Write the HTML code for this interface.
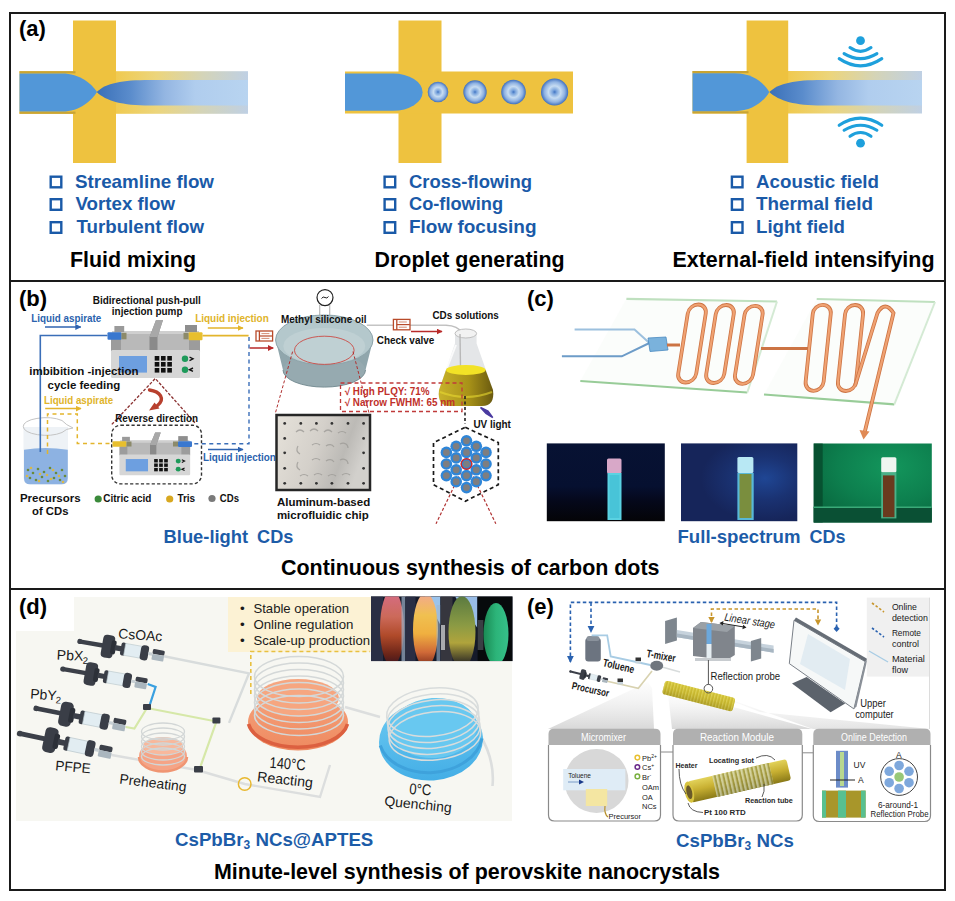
<!DOCTYPE html>
<html><head><meta charset="utf-8"><style>
html,body{margin:0;padding:0;background:#fff;}
body{width:955px;height:901px;overflow:hidden;position:relative;font-family:"Liberation Sans",sans-serif;}
svg{position:absolute;left:0;top:0;display:block;}
text{font-family:"Liberation Sans",sans-serif;}
.b{font-weight:bold;}
.lbl{font-weight:bold;font-size:22px;fill:#000;}
.li{font-weight:bold;font-size:18.5px;fill:#1a5aa8;}
.ttl{font-weight:bold;font-size:21.4px;fill:#000;}
.bt{font-weight:bold;font-size:18.7px;fill:#1c5ca8;}
.s10{font-weight:bold;font-size:10px;fill:#111;}
.s11{font-weight:bold;font-size:11.5px;fill:#111;}
</style></head><body>
<svg width="955" height="901" viewBox="0 0 955 901">
<defs>
  <linearGradient id="fadeY1" gradientUnits="userSpaceOnUse" x1="19.5" x2="248" y1="0" y2="0">
    <stop offset="0" stop-color="#eec23f"/>
    <stop offset="0.42" stop-color="#f0ca50"/>
    <stop offset="0.6" stop-color="#ecd57c"/>
    <stop offset="0.8" stop-color="#d4d4b8"/>
    <stop offset="1" stop-color="#bfd0e4"/>
  </linearGradient>
  <linearGradient id="fadeY2" gradientUnits="userSpaceOnUse" x1="692.5" x2="922" y1="0" y2="0">
    <stop offset="0" stop-color="#eec23f"/>
    <stop offset="0.42" stop-color="#f0ca50"/>
    <stop offset="0.6" stop-color="#ecd57c"/>
    <stop offset="0.8" stop-color="#d4d4b8"/>
    <stop offset="1" stop-color="#bfd0e4"/>
  </linearGradient>
  <linearGradient id="jet1" gradientUnits="userSpaceOnUse" x1="97" x2="248" y1="0" y2="0">
    <stop offset="0" stop-color="#3a70b8"/>
    <stop offset="0.22" stop-color="#5a8ccc"/>
    <stop offset="0.45" stop-color="#94b6e2"/>
    <stop offset="0.65" stop-color="#b0cdee"/>
    <stop offset="1" stop-color="#b8d4f0"/>
  </linearGradient>
  <linearGradient id="jet2" gradientUnits="userSpaceOnUse" x1="769" x2="922" y1="0" y2="0">
    <stop offset="0" stop-color="#3a70b8"/>
    <stop offset="0.22" stop-color="#5a8ccc"/>
    <stop offset="0.45" stop-color="#94b6e2"/>
    <stop offset="0.65" stop-color="#b0cdee"/>
    <stop offset="1" stop-color="#b8d4f0"/>
  </linearGradient>
  <radialGradient id="drop">
    <stop offset="0" stop-color="#3f73c2"/>
    <stop offset="0.15" stop-color="#7aa4dc"/>
    <stop offset="0.45" stop-color="#c6dcf2"/>
    <stop offset="0.75" stop-color="#8fb2e2"/>
    <stop offset="1" stop-color="#3e6fbd"/>
  </radialGradient>
  <g id="wave">
    <circle cx="0" cy="0" r="4.4" fill="#1ea0dc"/>
    <path d="M-10.5,6.9 Q0,14.5 10.5,6.9" fill="none" stroke="#1ea0dc" stroke-width="3.1" stroke-linecap="round"/>
    <path d="M-16.4,12.9 Q0,22.9 16.4,12.9" fill="none" stroke="#1ea0dc" stroke-width="3.1" stroke-linecap="round"/>
    <path d="M-21.3,17.9 Q0,32.3 21.3,17.9" fill="none" stroke="#1ea0dc" stroke-width="3.1" stroke-linecap="round"/>
  </g>
  <g id="box13">
    <rect x="1.2" y="1.2" width="10.6" height="10.6" fill="none" stroke="#1a5aa8" stroke-width="2.4"/>
  </g>
</defs>

<!-- ============ PANEL A ============ -->
<!-- left T -->
<rect x="19.5" y="71.2" width="228.5" height="42.6" fill="url(#fadeY1)"/>
<rect x="73" y="20.5" width="43" height="142.5" fill="#eec23f"/>
<rect x="19.5" y="71.2" width="56" height="2.2" fill="#c9a433"/>
<rect x="19.5" y="111.6" width="56" height="2.2" fill="#c9a433"/>
<path d="M19.5,73.4 H62 C80,73.4 92,84 97,92 C92,100 80,111.6 62,111.6 H19.5 Z" fill="#5297d8"/>
<path d="M96.7,92 C106,83 122,80 150,80 H248 V105.5 H150 C122,105.5 106,101 96.7,92 Z" fill="url(#jet1)"/>
<!-- middle T -->
<rect x="398.5" y="20.5" width="43" height="142.5" fill="#eec23f"/>
<rect x="345" y="71.5" width="228" height="42" fill="#eec23f"/>
<path d="M345,73.5 H393 A29.6,18.65 0 0 1 393,110.8 H345 Z" fill="#5297d8"/>
<circle cx="438" cy="92" r="10.3" fill="url(#drop)"/>
<circle cx="475" cy="92" r="11.7" fill="url(#drop)"/>
<circle cx="513.5" cy="92" r="12.3" fill="url(#drop)"/>
<circle cx="554.6" cy="92" r="13.6" fill="url(#drop)"/>

<!-- right T -->
<rect x="692.5" y="71" width="229.5" height="42.5" fill="url(#fadeY2)"/>
<rect x="746.6" y="20.5" width="41.6" height="142.5" fill="#eec23f"/>
<rect x="692.5" y="71" width="56" height="2.2" fill="#c9a433"/>
<rect x="692.5" y="111.3" width="56" height="2.2" fill="#c9a433"/>
<path d="M692.5,73.3 H735 C753,73.3 765,84 769.3,92 C765,100 753,111.2 735,111.2 H692.5 Z" fill="#5297d8"/>
<path d="M769.3,92 C779,83 795,80 822,80 H922 V105.5 H822 C795,105.5 779,101 769.3,92 Z" fill="url(#jet2)"/>
<use href="#wave" x="860.5" y="40.7"/>
<use href="#wave" transform="translate(860.5,143.2) scale(1,-1)"/>

<text x="19" y="35.5" class="lbl">(a)</text>

<use href="#box13" x="49.5" y="175.5"/>
<use href="#box13" x="49.5" y="198"/>
<use href="#box13" x="49.5" y="221"/>
<text x="75" y="187.5" class="li" textLength="139" lengthAdjust="spacingAndGlyphs">Streamline flow</text>
<text x="75.5" y="210" class="li" textLength="99.5" lengthAdjust="spacingAndGlyphs">Vortex flow</text>
<text x="76.5" y="233" class="li" textLength="127.5" lengthAdjust="spacingAndGlyphs">Turbulent flow</text>
<text x="70" y="267" class="ttl" textLength="126" lengthAdjust="spacingAndGlyphs">Fluid mixing</text>

<use href="#box13" x="383.4" y="175.5"/>
<use href="#box13" x="383.4" y="198"/>
<use href="#box13" x="383.4" y="221"/>
<text x="409" y="187.5" class="li" textLength="123" lengthAdjust="spacingAndGlyphs">Cross-flowing</text>
<text x="409" y="210" class="li" textLength="94" lengthAdjust="spacingAndGlyphs">Co-flowing</text>
<text x="409" y="233" class="li" textLength="127.5" lengthAdjust="spacingAndGlyphs">Flow focusing</text>
<text x="374.6" y="267" class="ttl" textLength="190" lengthAdjust="spacingAndGlyphs">Droplet generating</text>

<use href="#box13" x="730.7" y="175.5"/>
<use href="#box13" x="730.7" y="198"/>
<use href="#box13" x="730.7" y="221"/>
<text x="756" y="187.5" class="li" textLength="123" lengthAdjust="spacingAndGlyphs">Acoustic field</text>
<text x="756" y="210" class="li" textLength="117" lengthAdjust="spacingAndGlyphs">Thermal field</text>
<text x="756" y="233" class="li" textLength="89" lengthAdjust="spacingAndGlyphs">Light field</text>
<text x="672.5" y="267" class="ttl" textLength="262" lengthAdjust="spacingAndGlyphs">External-field intensifying</text>

<!-- ============ PANEL B ============ -->
<defs>
  <marker id="arB" viewBox="0 0 10 10" refX="9" refY="5" markerWidth="4" markerHeight="4" orient="auto"><path d="M0,0 L10,5 L0,10 z" fill="#2f63b0"/></marker>
  <marker id="arY" viewBox="0 0 10 10" refX="9" refY="5" markerWidth="4" markerHeight="4" orient="auto"><path d="M0,0 L10,5 L0,10 z" fill="#e3b52c"/></marker>
  <marker id="arR" viewBox="0 0 10 10" refX="9" refY="5" markerWidth="4" markerHeight="4" orient="auto"><path d="M0,0 L10,5 L0,10 z" fill="#b82a2a"/></marker>
  <linearGradient id="chipG" x1="0" y1="0" x2="1" y2="0.3">
    <stop offset="0" stop-color="#e6e2da"/><stop offset="0.5" stop-color="#d4d0ca"/><stop offset="0.8" stop-color="#bcbab6"/><stop offset="1" stop-color="#d2d0cc"/>
  </linearGradient>
  <linearGradient id="flaskL" x1="0" x2="1" y1="0" y2="0">
    <stop offset="0" stop-color="#c8b22a"/><stop offset="0.55" stop-color="#a89218"/><stop offset="1" stop-color="#6a5a10"/>
  </linearGradient>
  <g id="pump">
    <rect x="1" y="11" width="87" height="20" fill="#b9b9b9"/>
    <rect x="1" y="11" width="87" height="3" fill="#cfcfcf"/>
    <rect x="3.4" y="6" width="9.8" height="6" fill="#9a9a9a"/>
    <rect x="74" y="5" width="12" height="7" fill="#8e8e8e"/>
    <rect x="0" y="19" width="10" height="12" fill="#9c9c9c"/>
    <rect x="78" y="19" width="11" height="12" fill="#9c9c9c"/>
    <path d="M38.5,31 V17 L45,0 H52 L46.5,17 V31 Z" fill="#8a8a8a"/>
    <path d="M45,0 H52 L46.5,17 H38.5 Z" fill="#a8a8a8"/>
    <rect x="0" y="30" width="89" height="28" rx="1.5" fill="#d6d6d6"/>
    <rect x="8" y="36" width="28" height="16.6" fill="#6d9fe0"/>
    <g fill="#111">
      <rect x="43.7" y="36" width="4.6" height="4.6"/><rect x="50" y="36" width="4.6" height="4.6"/><rect x="56.3" y="36" width="4.6" height="4.6"/>
      <rect x="43.7" y="42" width="4.6" height="4.6"/><rect x="50" y="42" width="4.6" height="4.6"/><rect x="56.3" y="42" width="4.6" height="4.6"/>
      <rect x="43.7" y="48" width="4.6" height="4.6"/><rect x="50" y="48" width="4.6" height="4.6"/><rect x="56.3" y="48" width="4.6" height="4.6"/>
    </g>
    <circle cx="74" cy="38.8" r="3.2" fill="#1e9a5a"/>
    <circle cx="74" cy="49.7" r="3.2" fill="#1e9a5a"/>
    <path d="M78.5,37 L82,38.8 L78.5,40.6" fill="none" stroke="#111" stroke-width="1.4"/>
    <path d="M82,48 L78.5,49.7 L82,51.4" fill="none" stroke="#111" stroke-width="1.4"/>
  </g>
</defs>
<!-- pump 1 -->
<use href="#pump" transform="translate(111,320)"/>
<rect x="107.5" y="332.3" width="14" height="7.5" rx="1" fill="#3a78cf"/>
<rect x="121.5" y="332.8" width="5" height="6.5" fill="#8c8a6a"/>
<rect x="188.5" y="332.3" width="14" height="8" rx="1" fill="#e8bf2e"/>
<rect x="183.5" y="332.8" width="5" height="6.5" fill="#8c8a6a"/>
<!-- pump 2 -->
<rect x="111.7" y="425.2" width="89.8" height="58.7" rx="9" fill="none" stroke="#333" stroke-width="1.4" stroke-dasharray="3.2,2.2"/>
<use href="#pump" transform="translate(119.4,432.4) scale(0.795,0.74)"/>
<rect x="112.5" y="441.3" width="14" height="5.5" rx="1" fill="#e8bf2e"/>
<rect x="126.5" y="441.5" width="5" height="5" fill="#8c8a6a"/>
<rect x="178" y="441.3" width="14" height="5.8" rx="1" fill="#3a78cf"/>
<rect x="173" y="441.5" width="5" height="5" fill="#8c8a6a"/>
<!-- beaker -->
<path d="M23.5,427 V478 Q23.5,484.5 30,484.5 H61.5 Q68,484.5 68,478 V427 Z" fill="#eef2f6"/>
<path d="M24,449.8 Q45,446 67.8,449.8 V478 Q67.8,484.3 61.5,484.3 H30 Q24,484.3 24,478 Z" fill="#8db2e2"/>
<g fill="#6a8a3a">
<circle cx="28" cy="470" r="1.3"/><circle cx="33" cy="473" r="1.3"/><circle cx="38" cy="469" r="1.3"/><circle cx="44" cy="472" r="1.3"/><circle cx="50" cy="468" r="1.3"/><circle cx="56" cy="473" r="1.3"/><circle cx="62" cy="470" r="1.3"/><circle cx="30" cy="478" r="1.3"/><circle cx="36" cy="480" r="1.3"/><circle cx="42" cy="477" r="1.3"/><circle cx="48" cy="481" r="1.3"/><circle cx="54" cy="478" r="1.3"/><circle cx="60" cy="480" r="1.3"/><circle cx="65" cy="476" r="1.3"/>
</g>
<g fill="#d8b84a">
<circle cx="31" cy="468" r="1.3"/><circle cx="40" cy="474" r="1.3"/><circle cx="47" cy="475" r="1.3"/><circle cx="53" cy="470" r="1.3"/><circle cx="59" cy="476" r="1.3"/><circle cx="27" cy="476" r="1.3"/><circle cx="39" cy="481" r="1.3"/><circle cx="51" cy="479" r="1.3"/><circle cx="63" cy="482" r="1.3"/>
</g>
<path d="M23.3,426.7 A22.3,8.5 0 0 1 62,420.5 Q66,425 73,428 Q66,428.5 62,432.5 A22.3,8.5 0 0 1 23.3,426.7 Z" fill="none" stroke="#c4c4c4" stroke-width="1"/>
<!-- lines -->
<polyline points="107.5,335.5 40.3,335.5 40.3,452" fill="none" stroke="#3a6eb8" stroke-width="1.6"/>
<line x1="45" y1="327" x2="80.7" y2="327" stroke="#2f63b0" stroke-width="1.5" marker-end="url(#arB)"/>
<line x1="202.5" y1="335.6" x2="248.6" y2="335.6" stroke="#e3b52c" stroke-width="1.6"/>
<line x1="207.8" y1="328" x2="243" y2="328" stroke="#e3b52c" stroke-width="1.5" marker-end="url(#arY)"/>
<polyline points="249,337 249,443.8 193.8,443.8" fill="none" stroke="#3a6eb8" stroke-width="1.4" stroke-dasharray="4,3.5"/>
<line x1="208" y1="449.5" x2="243" y2="449.5" stroke="#2f63b0" stroke-width="1.5" marker-end="url(#arB)"/>
<polyline points="47.5,454 47.5,414 77.3,414 77.3,443.5 112.5,443.5" fill="none" stroke="#e3b52c" stroke-width="1.5" stroke-dasharray="4,3.5"/>
<line x1="45.2" y1="408.6" x2="81" y2="408.6" stroke="#e3b52c" stroke-width="1.5" marker-end="url(#arY)"/>
<line x1="249.7" y1="348" x2="273.2" y2="348" stroke="#b82a2a" stroke-width="1.5" marker-end="url(#arR)"/>
<!-- check valve 1 -->
<g transform="translate(255.4,330.4)">
  <rect x="0.6" y="0.6" width="16.6" height="10" fill="#fff" stroke="#b84a2a" stroke-width="1.3"/>
  <line x1="4" y1="0.6" x2="4" y2="10.6" stroke="#b84a2a" stroke-width="1.3"/>
  <line x1="4" y1="5.6" x2="17" y2="5.6" stroke="#b84a2a" stroke-width="1.2"/>
  <line x1="6" y1="3.2" x2="14" y2="3.2" stroke="#c87050" stroke-width="0.8"/>
  <line x1="6" y1="8" x2="14" y2="8" stroke="#c87050" stroke-width="0.8"/>
</g>
<!-- red dashed triangle + curved arrow -->
<polyline points="111.8,424.4 155.3,378.5 195.5,423.5" fill="none" stroke="#8a3030" stroke-width="1.3" stroke-dasharray="3,1.6"/>
<path d="M149.5,390 C160,391.5 166,399 157,406" fill="none" stroke="#b8402e" stroke-width="3.4" stroke-linecap="round"/>
<path d="M149,410.5 L154.5,402.5 L159.5,408.5 Z" fill="#b8402e"/>
<!-- dish -->
<line x1="319.7" y1="305" x2="319.7" y2="331" stroke="#b8b8b8" stroke-width="1.2"/>
<line x1="329.7" y1="305" x2="329.7" y2="331" stroke="#b8b8b8" stroke-width="1.2"/>
<circle cx="325" cy="297.6" r="8" fill="#fff" stroke="#222" stroke-width="1.2"/>
<path d="M321.5,298.5 Q323,296 325,297.5 Q327,299 328.5,296.5" fill="none" stroke="#222" stroke-width="1"/>
<path d="M275.7,340 L283,370 A41,17 0 0 0 365.5,370 L373,340 Z" fill="#90a6ac"/>
<ellipse cx="324.3" cy="370" rx="41" ry="17" fill="#96aab0"/>
<path d="M283,370 A41,17 0 0 0 365.5,370" fill="none" stroke="#7a9096" stroke-width="1"/>
<ellipse cx="324.3" cy="340" rx="48.7" ry="25" fill="#b4c8cc" stroke="#8ea4aa" stroke-width="1"/>
<ellipse cx="324.3" cy="346" rx="41" ry="18" fill="#bfd0d3"/>
<ellipse cx="324.3" cy="350.3" rx="29.8" ry="14.1" fill="none" stroke="#cc4a44" stroke-width="0.9"/>
<line x1="366.8" y1="325.2" x2="446" y2="325.2" stroke="#c4c4c4" stroke-width="1.4"/>
<path d="M446,325.2 Q458,325.5 462,333 L462.5,372" fill="none" stroke="#bfbfbf" stroke-width="1.4"/>
<!-- dashed red lines to chip -->
<line x1="292.6" y1="351.6" x2="275.4" y2="413" stroke="#b03030" stroke-width="1" stroke-dasharray="3,2"/>
<line x1="353" y1="351.6" x2="369" y2="413" stroke="#b03030" stroke-width="1" stroke-dasharray="3,2"/>
<!-- check valve 2 and arrow -->
<g transform="translate(392.8,318.8)">
  <rect x="0.6" y="0.6" width="16.6" height="10.4" fill="#fff" stroke="#b84a2a" stroke-width="1.3"/>
  <line x1="4" y1="0.6" x2="4" y2="11" stroke="#b84a2a" stroke-width="1.3"/>
  <line x1="4" y1="5.8" x2="17" y2="5.8" stroke="#b84a2a" stroke-width="1.2"/>
  <line x1="6" y1="3.2" x2="14" y2="3.2" stroke="#c87050" stroke-width="0.8"/>
  <line x1="6" y1="8.4" x2="14" y2="8.4" stroke="#c87050" stroke-width="0.8"/>
</g>
<line x1="411" y1="331.5" x2="442" y2="331.5" stroke="#b82a2a" stroke-width="1.5" marker-end="url(#arR)"/>
<!-- flask -->
<path d="M455,334 L455,343.5 L439,390 Q437,406 450,406 H482 Q495,406 493,390 L476.6,343.5 L476.6,334 Z" fill="#e4e6e8"/>
<ellipse cx="465.8" cy="333.5" rx="10.8" ry="4.5" fill="#f2f2f2" stroke="#b8b8b8" stroke-width="0.9"/>
<path d="M460,334 L460.5,368" stroke="#b8b8b8" stroke-width="1.4" fill="none"/>
<path d="M447,368 L456,345" stroke="#ffffff" stroke-width="2" fill="none" opacity="0.8"/>
<path d="M446,370 Q465.8,364 485.6,370 L493,390 Q495,406 482,406 H450 Q437,406 439,390 Z" fill="url(#flaskL)"/>
<ellipse cx="465.8" cy="370" rx="19.8" ry="5" fill="#f2e226"/>
<path d="M440,392 Q466,402 492,392" fill="none" stroke="#e8d830" stroke-width="2" opacity="0.6"/>
<line x1="465" y1="396" x2="465" y2="424" stroke="#222" stroke-width="1.6" stroke-dasharray="3,2.5"/>
<path d="M480.5,407.5 L492.8,417.6 L486,413.5 Z M480.5,407.5 L488,411 L492.8,417.6" fill="#4a3aa0" stroke="#4a3aa0" stroke-width="1.5"/>
<!-- red dashed PLQY box -->
<rect x="340.5" y="383" width="121.5" height="28.5" fill="none" stroke="#c03a3a" stroke-width="1.3" stroke-dasharray="4,3"/>
<!-- chip -->
<rect x="276.5" y="415" width="93.5" height="75" fill="url(#chipG)" stroke="#262626" stroke-width="2.5"/>
<g fill="#333">
<circle cx="284.7" cy="423.4" r="1.4"/><circle cx="300.8" cy="423.4" r="1.4"/><circle cx="316.4" cy="423.4" r="1.4"/><circle cx="331.9" cy="423.4" r="1.4"/><circle cx="348" cy="423.4" r="1.4"/><circle cx="363.6" cy="423.4" r="1.4"/>
<circle cx="284.7" cy="483.3" r="1.4"/><circle cx="300.8" cy="483.3" r="1.4"/><circle cx="316.4" cy="483.3" r="1.4"/><circle cx="331.9" cy="483.3" r="1.4"/><circle cx="348" cy="483.3" r="1.4"/><circle cx="363.6" cy="483.3" r="1.4"/>
<circle cx="284.7" cy="438.4" r="1.4"/><circle cx="284.7" cy="452.8" r="1.4"/><circle cx="284.7" cy="468.3" r="1.4"/>
<circle cx="363.6" cy="438.4" r="1.4"/><circle cx="363.6" cy="452.8" r="1.4"/><circle cx="363.6" cy="468.3" r="1.4"/>
</g>
<g fill="none" stroke="#9e9c98" stroke-width="1.2" opacity="0.8">
<path d="M296,432 q4,-4 8,0 M310,431 q4,-4 8,0 M324,432 q4,-4 8,0 M338,433 q4,-3 8,0"/>
<path d="M298,446 q-3,5 2,8 M312,445 q4,-3 8,0 M326,446 c3,-2 6,-2 8,1 M340,444 c4,-2 8,0 8,4"/>
<path d="M298,462 q-3,5 2,8 M312,460 q4,-3 8,0 M326,461 c3,-2 6,-2 8,1 M340,460 c4,-2 8,0 8,4"/>
<path d="M300,476 q4,-3 8,0 M314,475 q4,-3 8,0 M328,476 q4,-3 8,0 M342,475 q4,-3 8,0"/>
</g>
<!-- hexagon -->
<polygon points="465.3,427.3 498.3,442.6 498.3,484.7 465.3,501.2 433.5,484.7 433.5,442.6" fill="none" stroke="#1a1a1a" stroke-width="1.7" stroke-dasharray="4,3"/>
<line x1="461" y1="472" x2="436" y2="523.8" stroke="#b03030" stroke-width="1.2" stroke-dasharray="3,2"/>
<line x1="471" y1="472" x2="495.8" y2="523.8" stroke="#b03030" stroke-width="1.2" stroke-dasharray="3,2"/>
<g id="hexc">
<g fill="#2f86d8">
<circle cx="466.5" cy="464" r="5.8"/>
<circle cx="466.5" cy="452.4" r="5.8"/><circle cx="476.3" cy="457.9" r="5.8"/><circle cx="476.3" cy="469.8" r="5.8"/><circle cx="466.5" cy="475.6" r="5.8"/><circle cx="456.2" cy="469.8" r="5.8"/><circle cx="456.2" cy="457.9" r="5.8"/>
<circle cx="466.5" cy="440.8" r="5.8"/><circle cx="476.3" cy="446.3" r="5.8"/><circle cx="486" cy="452.4" r="5.8"/><circle cx="486" cy="464" r="5.8"/><circle cx="486" cy="475.6" r="5.8"/><circle cx="476.3" cy="481.7" r="5.8"/><circle cx="466.5" cy="487.6" r="5.8"/><circle cx="456.2" cy="481.7" r="5.8"/><circle cx="446.4" cy="475.6" r="5.8"/><circle cx="446.4" cy="464" r="5.8"/><circle cx="446.4" cy="452.4" r="5.8"/><circle cx="456.2" cy="446.3" r="5.8"/>
</g>
<g fill="#7e7e80">
<circle cx="466.5" cy="464" r="3.4"/>
<circle cx="466.5" cy="452.4" r="3.4"/><circle cx="476.3" cy="457.9" r="3.4"/><circle cx="476.3" cy="469.8" r="3.4"/><circle cx="466.5" cy="475.6" r="3.4"/><circle cx="456.2" cy="469.8" r="3.4"/><circle cx="456.2" cy="457.9" r="3.4"/>
<circle cx="466.5" cy="440.8" r="3.4"/><circle cx="476.3" cy="446.3" r="3.4"/><circle cx="486" cy="452.4" r="3.4"/><circle cx="486" cy="464" r="3.4"/><circle cx="486" cy="475.6" r="3.4"/><circle cx="476.3" cy="481.7" r="3.4"/><circle cx="466.5" cy="487.6" r="3.4"/><circle cx="456.2" cy="481.7" r="3.4"/><circle cx="446.4" cy="475.6" r="3.4"/><circle cx="446.4" cy="464" r="3.4"/><circle cx="446.4" cy="452.4" r="3.4"/><circle cx="456.2" cy="446.3" r="3.4"/>
</g>
<circle cx="466.5" cy="464" r="5.3" fill="none" stroke="#d02828" stroke-width="1.4"/>
</g>
<!-- text b -->
<text x="92.8" y="303.5" class="s10" textLength="108" lengthAdjust="spacingAndGlyphs">Bidirectional push-pull</text>
<text x="111.8" y="314.8" class="s10" textLength="70.7" lengthAdjust="spacingAndGlyphs">injection pump</text>
<text x="31.2" y="321.8" class="s10" style="fill:#2a62ad" textLength="70" lengthAdjust="spacingAndGlyphs">Liquid aspirate</text>
<text x="195.2" y="321.8" class="s10" style="fill:#e0b42a" textLength="73.6" lengthAdjust="spacingAndGlyphs">Liquid injection</text>
<text x="29.2" y="375.2" class="s11" textLength="109.4" lengthAdjust="spacingAndGlyphs">imbibition -injection</text>
<text x="47.6" y="389.4" class="s11" textLength="72.7" lengthAdjust="spacingAndGlyphs">cycle feeding</text>
<text x="44" y="403.8" class="s10" style="fill:#e0b42a" textLength="69.2" lengthAdjust="spacingAndGlyphs">Liquid aspirate</text>
<text x="115.2" y="422.2" class="s10" textLength="82.8" lengthAdjust="spacingAndGlyphs">Reverse direction</text>
<text x="203" y="461" class="s10" style="fill:#2a62ad" textLength="72.8" lengthAdjust="spacingAndGlyphs">Liquid injection</text>
<text x="19.9" y="501.7" class="s11" textLength="60.8" lengthAdjust="spacingAndGlyphs">Precursors</text>
<text x="32" y="515.3" class="s11" textLength="36.5" lengthAdjust="spacingAndGlyphs">of CDs</text>
<circle cx="98.2" cy="499" r="3.6" fill="#3a8a3a"/>
<text x="103.3" y="502.3" class="s10" textLength="48.1" lengthAdjust="spacingAndGlyphs">Citric acid</text>
<circle cx="169.7" cy="499" r="3.6" fill="#d8a820"/>
<text x="177.4" y="502.3" class="s10" textLength="17.8" lengthAdjust="spacingAndGlyphs">Tris</text>
<circle cx="212" cy="498.5" r="3.6" fill="#7a7a7a"/>
<text x="219.8" y="502.3" class="s10" textLength="19.2" lengthAdjust="spacingAndGlyphs">CDs</text>
<text x="281" y="323.3" class="s10" textLength="85.5" lengthAdjust="spacingAndGlyphs">Methyl silicone oil</text>
<text x="376.7" y="344.3" class="s10" textLength="57.6" lengthAdjust="spacingAndGlyphs">Check valve</text>
<text x="432.4" y="319" class="s10" textLength="66.4" lengthAdjust="spacingAndGlyphs">CDs solutions</text>
<text x="473.4" y="428.4" class="s10" textLength="37.5" lengthAdjust="spacingAndGlyphs">UV light</text>
<text x="276.9" y="505.9" class="s11" textLength="93.3" lengthAdjust="spacingAndGlyphs">Aluminum-based</text>
<text x="276.9" y="518.7" class="s11" textLength="91.8" lengthAdjust="spacingAndGlyphs">microfluidic chip</text>
<text x="344.7" y="395.3" class="s10" style="fill:#c0302a" textLength="84.8" lengthAdjust="spacingAndGlyphs">√ High PLQY: 71%</text>
<text x="344.7" y="406.4" class="s10" style="fill:#c0302a" textLength="110.3" lengthAdjust="spacingAndGlyphs">√ Narrow FWHM: 65 nm</text>

<!-- ============ PANEL C ============ -->
<defs>
  <g id="loop">
    <rect x="-9" y="-39" width="18" height="78" rx="9" fill="none" stroke="#cc7444" stroke-width="3.8"/>
    <rect x="-9" y="-39" width="18" height="78" rx="9" fill="none" stroke="#f0a272" stroke-width="2.2"/>
  </g>
  <g id="loopT">
    <rect x="-9" y="-43" width="18" height="86" rx="9" fill="none" stroke="#cc7444" stroke-width="3.8"/>
    <rect x="-9" y="-43" width="18" height="86" rx="9" fill="none" stroke="#f0a272" stroke-width="2.2"/>
  </g>
  <linearGradient id="ph1" x1="0" y1="0" x2="0" y2="1"><stop offset="0" stop-color="#071233"/><stop offset="0.55" stop-color="#061030"/><stop offset="0.75" stop-color="#05081a"/><stop offset="1" stop-color="#040407"/></linearGradient>
  <radialGradient id="ph2" cx="0.72" cy="0.45" r="0.55"><stop offset="0" stop-color="#1f4694"/><stop offset="0.5" stop-color="#1a3272"/><stop offset="1" stop-color="#16255a"/></radialGradient>
  <radialGradient id="ph3" cx="0.65" cy="0.3" r="0.75"><stop offset="0" stop-color="#13965c"/><stop offset="0.6" stop-color="#0d7f4e"/><stop offset="1" stop-color="#096a40"/></radialGradient>
</defs>
<!-- plates -->
<polygon points="626.4,298.8 777,301.5 747.3,392.5 580.3,381" fill="#f8fbf8" fill-opacity="0.5"/>
<line x1="626.4" y1="298.8" x2="777" y2="301.5" stroke="#bfe0bf" stroke-width="2.2"/>
<line x1="580.3" y1="381" x2="747.3" y2="392.5" stroke="#98cc98" stroke-width="2.2"/>
<line x1="777" y1="301.5" x2="747.3" y2="392.5" stroke="#d4ead4" stroke-width="2"/>
<polygon points="816.7,299 935,302 894.3,404.4 764,394.5" fill="#f8fbf8" fill-opacity="0.5"/>
<line x1="816.7" y1="299" x2="935" y2="302" stroke="#bfe0bf" stroke-width="2.2"/>
<line x1="764" y1="394.5" x2="894.3" y2="404.4" stroke="#98cc98" stroke-width="2.2"/>
<line x1="935" y1="302" x2="894.3" y2="404.4" stroke="#d4ead4" stroke-width="2"/>
<!-- inlet -->
<polyline points="574.6,329.6 634.5,329.6 649.4,343" fill="none" stroke="#9cc0de" stroke-width="2"/>
<polyline points="561.9,356.3 621.8,356.3 649.4,343" fill="none" stroke="#6d9cc8" stroke-width="2"/>
<polygon points="648,338 666,337 668,350 650,351.5" fill="#7ab2dc" stroke="#4a8ac0" stroke-width="0.8"/>
<line x1="667" y1="345" x2="680" y2="345" stroke="#cc7444" stroke-width="3"/>
<!-- connection -->
<line x1="761" y1="348.5" x2="810" y2="348.5" stroke="#cc7444" stroke-width="3"/>
<!-- loops -->
<use href="#loop" transform="translate(692,343.5) skewX(-9)"/>
<use href="#loop" transform="translate(720,344) skewX(-9)"/>
<use href="#loop" transform="translate(748.8,344.8) skewX(-9)"/>
<use href="#loopT" transform="translate(818.2,347.8) skewX(-6)"/>
<use href="#loopT" transform="translate(850.5,348) skewX(-6)"/>
<path d="M855,386 L877.5,313 Q885,300 893.5,313 L864.5,433" fill="none" stroke="#cc7444" stroke-width="3.8"/>
<path d="M855,386 L877.5,313 Q885,300 893.5,313 L864.5,433" fill="none" stroke="#f0a272" stroke-width="2.2"/>
<path d="M859.5,430 L863.5,439.5 L869.5,431.5 Z" fill="#e08a55"/>
<!-- photos -->
<rect x="546.8" y="443.4" width="118" height="77.8" fill="url(#ph1)"/>
<rect x="607" y="458.4" width="14.5" height="15" rx="1.5" fill="#d8a8c8"/>
<rect x="607.5" y="473" width="14" height="47" fill="#5ad2e2"/>
<rect x="609.5" y="475" width="10" height="43" fill="#48c4d8"/>
<rect x="681" y="443.4" width="116.3" height="77.8" fill="url(#ph2)"/>
<rect x="737.4" y="457" width="16" height="16" rx="1.5" fill="#b8e8f4"/>
<rect x="737.4" y="473" width="16.3" height="47" fill="#58b8d8"/>
<rect x="739.5" y="474" width="12" height="44" fill="#7a8e3e"/>
<rect x="813.7" y="443.5" width="118.1" height="79" fill="url(#ph3)"/>
<rect x="813.7" y="443.5" width="9" height="79" fill="#064a2c" opacity="0.8"/>
<rect x="813.7" y="507" width="118.1" height="15.5" fill="#0a5034"/>
<line x1="813.7" y1="507.3" x2="931.8" y2="507.3" stroke="#3aaa78" stroke-width="1.5"/>
<rect x="881.2" y="457.2" width="15.2" height="15.2" rx="1.5" fill="#eef6f0"/>
<rect x="881.2" y="472.4" width="15.2" height="46" fill="#4ab088"/>
<rect x="883" y="475.4" width="11.5" height="41.8" fill="#6a3a1e"/>

<!-- ============ PANEL D ============ -->
<defs>
  <g id="syr">
    <rect x="0" y="-2.2" width="27" height="4.4" rx="2" fill="#3c4049"/>
    <circle cx="1.5" cy="0" r="2.6" fill="#3c4049"/>
    <rect x="24" y="-11.5" width="12" height="23" rx="4" fill="#3a3e47"/>
    <rect x="33" y="-7" width="5" height="14" rx="2" fill="#2c3038"/>
    <rect x="37" y="-2.6" width="7" height="5.2" fill="#3c4049"/>
    <rect x="43" y="-6.5" width="5" height="13" rx="2" fill="#3a3e47"/>
    <rect x="47" y="-6" width="17" height="12" fill="#e2edf2" stroke="#b9c6cc" stroke-width="0.6"/>
    <rect x="63" y="-7.5" width="8" height="15" rx="3" fill="#3a3e47"/>
    <rect x="71" y="-1.5" width="4" height="3" fill="#c8d0d4"/>
    <rect x="75" y="-5.5" width="12" height="5" rx="1.5" fill="#3c4049"/>
    <rect x="75" y="-0.5" width="12" height="6" rx="1" fill="#aab6be"/>
  </g>
  <linearGradient id="oY" x1="0" y1="0" x2="0" y2="1"><stop offset="0" stop-color="#f6a27c"/><stop offset="1" stop-color="#ee8a60"/></linearGradient>
  <linearGradient id="bY" x1="0" y1="0" x2="0" y2="1"><stop offset="0" stop-color="#6ccaf2"/><stop offset="1" stop-color="#44aee6"/></linearGradient>
</defs>
<!-- off-white bg -->
<path d="M74,597 H371 V661 H512 V821 H16 V631 H74 Z" fill="#f7f7f2"/>
<!-- yellow box -->
<rect x="228" y="597" width="144" height="55" fill="#fcf2d4"/>
<polyline points="250.8,693.9 250.8,651.5 370,651.5" fill="none" stroke="#e8c040" stroke-width="1.6" stroke-dasharray="4,3"/>
<!-- tubes -->
<polyline points="162.7,656 249,673.4 229,722.9" fill="none" stroke="#d8dcdc" stroke-width="2.4"/>
<polyline points="147.7,684 155.6,687 150,704.2 147,708" fill="none" stroke="#3aa0e0" stroke-width="2.2"/>
<polyline points="125.7,727 134.4,728.5 147,708" fill="none" stroke="#d6e8a8" stroke-width="2.2"/>
<polyline points="147,708 216.4,721.5 200.6,766.2" fill="none" stroke="#d6e8a8" stroke-width="2.2"/>
<polyline points="111.6,755 197,770 244.7,784 320,797 330,765" fill="none" stroke="#dcdede" stroke-width="2.4"/>
<polyline points="345,707 380,717" fill="none" stroke="#dcdede" stroke-width="2.4"/>
<path d="M480,735 Q495,760 492.5,786" fill="none" stroke="#dcdede" stroke-width="2.6"/>
<g fill="#3a3e47">
<rect x="143" y="704" width="8" height="6" rx="1"/><rect x="212.4" y="717.5" width="8" height="6" rx="1"/><rect x="194" y="766" width="9" height="6.5" rx="1"/>
</g>
<circle cx="244.7" cy="784" r="6.3" fill="none" stroke="#e8b830" stroke-width="1.5"/>
<!-- syringes -->
<use href="#syr" transform="translate(78.4,641.2) rotate(10)"/>
<use href="#syr" transform="translate(61.3,668.8) rotate(10)"/>
<use href="#syr" transform="translate(34.6,708.1) rotate(11) scale(1.065)"/>
<use href="#syr" transform="translate(18.1,733.2) rotate(12) scale(1.1)"/>
<!-- preheating dish -->
<ellipse cx="163" cy="756" rx="24" ry="15.5" fill="#f5a486"/>
<path d="M139,757 A24,14.5 0 0 0 187,757" fill="none" stroke="#f09572" stroke-width="2.5"/>
<ellipse cx="163" cy="746" rx="20" ry="9" fill="#f8b89c"/>
<g fill="none" stroke="#d2d6d6" stroke-width="1.3">
<ellipse cx="163" cy="731.5" rx="21.5" ry="8.5"/><ellipse cx="163" cy="736.5" rx="21.5" ry="8.5"/><ellipse cx="163" cy="741.5" rx="21.5" ry="8.5"/><ellipse cx="163" cy="746.5" rx="21.5" ry="8.5"/><ellipse cx="163" cy="751.5" rx="21.5" ry="8.5"/><ellipse cx="163" cy="756.5" rx="21.5" ry="8.5"/>
</g>
<!-- reacting dish -->
<ellipse cx="298" cy="722" rx="50" ry="28.5" fill="url(#oY)"/>
<path d="M248.5,724 A50,27 0 0 0 347.5,724" fill="none" stroke="#dc6040" stroke-width="3.5"/>
<ellipse cx="298" cy="698" rx="41" ry="19" fill="#f6a680"/>
<g fill="none" stroke="#d4d8d8" stroke-width="1.6">
<ellipse cx="299" cy="676.5" rx="44.5" ry="20"/><ellipse cx="299" cy="683" rx="44.5" ry="20"/><ellipse cx="299" cy="689.5" rx="44.5" ry="20"/><ellipse cx="299" cy="696" rx="44.5" ry="20"/><ellipse cx="299" cy="702.5" rx="44.5" ry="20"/><ellipse cx="299" cy="709" rx="44.5" ry="20"/><ellipse cx="299" cy="715.5" rx="44.5" ry="20"/>
</g>
<!-- quench dish -->
<ellipse cx="431" cy="740.5" rx="52" ry="40" fill="url(#bY)" transform="rotate(-4 431 740.5)"/>
<path d="M380,742 A52,38 0 0 0 482,742" fill="none" stroke="#3ea2dc" stroke-width="3" transform="rotate(-4 431 740.5)"/>
<ellipse cx="434" cy="728" rx="43" ry="30" fill="#68c8f0" transform="rotate(-4 434 728)"/>
<g fill="none" stroke="#d8dcdc" stroke-width="1.5" transform="rotate(-6 434 727)">
<ellipse cx="434" cy="712" rx="46" ry="24"/><ellipse cx="434" cy="718" rx="46" ry="24"/><ellipse cx="434" cy="724" rx="46" ry="24"/><ellipse cx="434" cy="730" rx="46" ry="24"/><ellipse cx="434" cy="736" rx="46" ry="24"/>
</g>
<!-- photo strip -->
<defs>
<clipPath id="cs1"><rect x="371" y="596.4" width="34.5" height="64.7"/></clipPath>
<clipPath id="cs2"><rect x="405.5" y="596.4" width="35" height="64.7"/></clipPath>
<clipPath id="cs3"><rect x="440.5" y="596.4" width="37" height="64.7"/></clipPath>
<clipPath id="cs4"><rect x="477.4" y="596.4" width="35" height="64.7"/></clipPath>
<linearGradient id="g1" x1="0" y1="0" x2="0" y2="1"><stop offset="0" stop-color="#d66c88"/><stop offset="0.35" stop-color="#cc6a5a"/><stop offset="0.6" stop-color="#b04a2a"/><stop offset="0.85" stop-color="#6a2418"/><stop offset="1" stop-color="#3a1420"/></linearGradient>
<linearGradient id="g2" x1="0" y1="0" x2="0" y2="1"><stop offset="0" stop-color="#f2a890"/><stop offset="0.3" stop-color="#f0c050"/><stop offset="0.55" stop-color="#f0b040"/><stop offset="0.8" stop-color="#d06a38"/><stop offset="1" stop-color="#7a2a1a"/></linearGradient>
<linearGradient id="g3" x1="0" y1="0" x2="0" y2="1"><stop offset="0" stop-color="#5a7a40"/><stop offset="0.4" stop-color="#8a9a44"/><stop offset="0.65" stop-color="#b0a43c"/><stop offset="0.9" stop-color="#3e3a28"/><stop offset="1" stop-color="#2a2a24"/></linearGradient>
<linearGradient id="g4" x1="0" y1="0" x2="1" y2="0"><stop offset="0" stop-color="#1a8a54"/><stop offset="0.5" stop-color="#2cb479"/><stop offset="1" stop-color="#36c08a"/></linearGradient>
</defs>
<rect x="371" y="596.4" width="141.6" height="64.7" fill="#151a2a"/>
<g clip-path="url(#cs1)">
  <rect x="371" y="596.4" width="12" height="64.7" fill="#2a2e44"/>
  <ellipse cx="392" cy="628" rx="12" ry="38" fill="url(#g1)"/>
  <rect x="401.5" y="596.4" width="4" height="64.7" fill="#9cb0c8" opacity="0.7"/>
</g>
<g clip-path="url(#cs2)">
  <rect x="405.5" y="596.4" width="10" height="64.7" fill="#2a2e44"/>
  <polygon points="425,596.4 440.5,596.4 440.5,625" fill="#9cc4ec"/>
  <ellipse cx="425.5" cy="630" rx="12.5" ry="37" fill="url(#g2)"/>
  <rect x="436.5" y="605" width="4" height="56" fill="#a0b8d0" opacity="0.6"/>
</g>
<g clip-path="url(#cs3)">
  <rect x="440.5" y="596.4" width="12" height="64.7" fill="#36363e"/>
  <polygon points="455,596.4 477.5,596.4 477.5,628" fill="#98bce6"/>
  <ellipse cx="462" cy="632" rx="13.5" ry="36" fill="url(#g3)"/>
  <rect x="441" y="625" width="4" height="25" fill="#d8dce0" opacity="0.7"/>
</g>
<g clip-path="url(#cs4)">
  <rect x="477.4" y="596.4" width="35" height="64.7" fill="#070a0c"/>
  <rect x="477.4" y="620" width="6" height="30" fill="#3a3e44"/>
  <ellipse cx="496" cy="634" rx="12.5" ry="31" fill="url(#g4)"/>
</g>
<!-- texts -->
<g font-family="Liberation Sans" fill="#1a1a1a">
<text x="240" y="612.8" font-size="13.5">•</text>
<text x="240" y="628.6" font-size="13.5">•</text>
<text x="240" y="644.6" font-size="13.5">•</text>
<text x="253.4" y="613" font-size="13.2" textLength="95.8" lengthAdjust="spacingAndGlyphs">Stable operation</text>
<text x="253.4" y="628.6" font-size="13.2" textLength="100" lengthAdjust="spacingAndGlyphs">Online regulation</text>
<text x="253.4" y="644.6" font-size="13.2" textLength="116.6" lengthAdjust="spacingAndGlyphs">Scale-up production</text>
<text transform="translate(118,638.2) rotate(4)" font-size="14" textLength="44" lengthAdjust="spacingAndGlyphs">CsOAc</text>
<text transform="translate(56.6,659.4) rotate(3)" font-size="14">PbX<tspan font-size="9.5" dy="3" dx="-0.5">2</tspan></text>
<text transform="translate(29.9,698.5) rotate(4)" font-size="14">PbY<tspan font-size="9.5" dy="3" dx="-0.5">2</tspan></text>
<text transform="translate(55,770.3) rotate(5)" font-size="14" textLength="35.5" lengthAdjust="spacingAndGlyphs">PFPE</text>
<text transform="translate(119,783.5) rotate(7)" font-size="14" textLength="67.5" lengthAdjust="spacingAndGlyphs">Preheating</text>
<text transform="translate(269.3,767.8) rotate(4)" font-size="15.5" textLength="36" lengthAdjust="spacingAndGlyphs">140°C</text>
<text transform="translate(256.7,781.3) rotate(6.5)" font-size="14.2" textLength="56" lengthAdjust="spacingAndGlyphs">Reacting</text>
<text transform="translate(409,794) rotate(4)" font-size="15.5" textLength="22" lengthAdjust="spacingAndGlyphs">0°C</text>
<text transform="translate(384,805.5) rotate(6)" font-size="14" textLength="67.5" lengthAdjust="spacingAndGlyphs">Quenching</text>
</g>

<!-- ============ PANEL E ============ -->
<defs>
  <marker id="arB2" viewBox="0 0 10 10" refX="5" refY="5" markerWidth="4.5" markerHeight="4.5" orient="auto"><path d="M0,0 L10,5 L0,10 z" fill="#2a62b0"/></marker>
  <marker id="arO2" viewBox="0 0 10 10" refX="5" refY="5" markerWidth="4.5" markerHeight="4.5" orient="auto"><path d="M0,0 L10,5 L0,10 z" fill="#c8962c"/></marker>
  <linearGradient id="projG" x1="0" y1="0" x2="0" y2="1"><stop offset="0" stop-color="#f2f2f2" stop-opacity="0.2"/><stop offset="1" stop-color="#d8d8d8"/></linearGradient>
  <linearGradient id="coilG" x1="0" y1="0" x2="0" y2="1"><stop offset="0" stop-color="#dccc40"/><stop offset="0.5" stop-color="#c2b02a"/><stop offset="1" stop-color="#8a7a18"/></linearGradient>
  <pattern id="coilP" width="3.2" height="20" patternUnits="userSpaceOnUse"><rect width="3.2" height="20" fill="#c8b830"/><rect width="1.2" height="20" fill="#e8e070"/></pattern>
</defs>
<!-- projection trapezoids -->
<polygon points="548,729 654,729 652,688 648,682" fill="url(#projG)"/>
<polygon points="672,729 812,729 737,708 668,694" fill="url(#projG)"/>
<polygon points="813,729 930,729 760,712 712,693" fill="url(#projG)" opacity="0.7"/>
<!-- blue/orange dashed -->
<polyline points="570.4,662 570.4,602.4 836.6,602.4 836.6,628" fill="none" stroke="#2a62b0" stroke-width="1.6" stroke-dasharray="3.5,2.5"/>
<line x1="591" y1="602.4" x2="591" y2="630" stroke="#2a62b0" stroke-width="1.6" stroke-dasharray="3.5,2.5"/>
<path d="M567,656 L570.4,663 L573.8,656 Z M587.6,626 L591,633 L594.4,626 Z" fill="#2a62b0"/>
<path d="M836.6,625.6 L839.6,628.8 L836.6,632 L833.6,628.8 Z" fill="#2a62b0"/>
<polyline points="711.5,622 711.5,609 818,609 818,621" fill="none" stroke="#c8962c" stroke-width="1.6" stroke-dasharray="3.5,2.5"/>
<path d="M814.8,619.5 L818,625.5 L821.2,619.5 Z M708.3,617 L711.5,623 L714.7,617 Z" fill="#c8962c"/>
<!-- toluene bottle + tubes -->
<rect x="585.3" y="638" width="15.5" height="23.4" rx="3" fill="#6c7480"/>
<rect x="586.5" y="636" width="13" height="5" rx="2.5" fill="#8a929c"/>
<polyline points="591.6,635.3 607.2,635.3 610.7,656.5 650.3,665" fill="none" stroke="#a8cce4" stroke-width="1.8"/>
<polyline points="607.2,681.2 638.3,688.3 652,671" fill="none" stroke="#d8d2b0" stroke-width="1.6"/>
<line x1="662" y1="667" x2="680" y2="672" stroke="#d8dcdc" stroke-width="1.5"/>
<ellipse cx="656.7" cy="665.7" rx="6.5" ry="5" fill="#70767e"/>
<rect x="635.5" y="657.5" width="5.5" height="3.5" fill="#333"/><rect x="635.5" y="661" width="5.5" height="2.5" fill="#c8d4dc"/>
<rect x="617.5" y="678.5" width="5.5" height="3.5" fill="#333"/><rect x="617.5" y="682" width="5.5" height="2.5" fill="#c8d4dc"/>
<!-- precursor syringe -->
<g transform="translate(569.7,671.3) rotate(14) scale(0.45)">
  <use href="#syr"/>
</g>
<!-- reaction tube coil -->
<g transform="translate(663.6,687.1) rotate(14.3)">
  <rect x="0" y="-7" width="72.5" height="14" rx="3" fill="url(#coilP)"/>
  <rect x="0" y="-7" width="72.5" height="14" rx="3" fill="url(#coilG)" opacity="0.45"/>
</g>
<!-- linear stage -->
<polygon points="665.1,621 676.9,617.6 676.9,640.5 665.1,644" fill="#7e868e"/>
<polygon points="676.9,630 773.6,645.5 773.6,652.7 676.9,637.3" fill="#c6d2dc"/>
<polygon points="676.9,633.5 773.6,649 773.6,652.7 676.9,637.3" fill="#a8b6c2"/>
<polygon points="750.9,641 761.2,638.1 761.2,658.6 750.9,661.6" fill="#7e868e"/>
<polygon points="693,628 701,622 734.8,626 734.8,655 727,660 693,656" fill="#80858c"/>
<polygon points="693,628 701,622 734.8,626 727,632" fill="#9aa0a6"/>
<rect x="706.5" y="624" width="5" height="20" fill="#6ca8dc"/>
<rect x="706.5" y="644" width="5" height="14" fill="#e6eef2"/>
<rect x="695" y="658" width="36" height="3" fill="#c8ccd0"/>
<line x1="708.4" y1="660" x2="708.4" y2="684.5" stroke="#555" stroke-width="1"/>
<circle cx="708.4" cy="688.7" r="4.3" fill="none" stroke="#555" stroke-width="1"/>
<line x1="721" y1="623.2" x2="745" y2="627.2" stroke="#222" stroke-width="1"/><path d="M719.4,622.9 L723.5,621 L722.8,625.5 Z M746.5,627.5 L742.4,629.2 L743.2,624.8 Z" fill="#222"/>
<!-- monitor -->
<polygon points="792,683.6 806.6,676.9 845.2,703.5 830.6,712.2" fill="#5c636c"/>
<polygon points="794,620.3 865.2,661.6 853.9,708.9 789.3,663.6" fill="#f6f8f8" stroke="#7a8088" stroke-width="1"/>
<polygon points="794,620.3 796,617.5 867.5,659 865.2,661.6" fill="#666d76"/>
<polygon points="865.2,661.6 867.5,659 856.5,706.5 853.9,708.9" fill="#8a9098"/>
<polygon points="808,634 850,659 845,690 800,664" fill="#e2ecf2"/>
<line x1="929.5" y1="597.6" x2="929.5" y2="729" stroke="#dcdcdc" stroke-width="1"/>
<!-- legend box -->
<rect x="866.8" y="597.6" width="62.2" height="79" fill="#f0f0f0"/>
<line x1="872" y1="603" x2="884" y2="612" stroke="#c8962c" stroke-width="1.6" stroke-dasharray="2.5,2"/>
<line x1="872" y1="628" x2="884" y2="637" stroke="#2a62b0" stroke-width="1.6" stroke-dasharray="2.5,2"/>
<line x1="869" y1="651" x2="888" y2="662" stroke="#a8cce4" stroke-width="1.4"/>
<!-- sub boxes -->
<path d="M548.5,745 V734 Q548.5,728.7 554,728.7 H655 Q660.5,728.7 660.5,734 V745 Z" fill="#b0b0b0"/>
<path d="M548.5,745 V815 Q548.5,821 554.5,821 H654.5 Q660.5,821 660.5,815 V745" fill="none" stroke="#8a8a8a" stroke-width="1.2"/>
<path d="M673,745 V734 Q673,728.7 678.5,728.7 H797 Q802.3,728.7 802.3,734 V745 Z" fill="#b0b0b0"/>
<path d="M673,745 V815 Q673,821 679,821 H796.3 Q802.3,821 802.3,815 V745" fill="none" stroke="#8a8a8a" stroke-width="1.2"/>
<path d="M813.3,745 V734 Q813.3,728.7 819,728.7 H925 Q930.5,728.7 930.5,734 V745 Z" fill="#b0b0b0"/>
<path d="M813.3,745 V815.5 Q813.3,821.5 819.3,821.5 H924.5 Q930.5,821.5 930.5,815.5 V745" fill="none" stroke="#8a8a8a" stroke-width="1.2"/>
<line x1="660.5" y1="752" x2="673" y2="752" stroke="#8a8a8a" stroke-width="1"/>
<line x1="802.3" y1="752.8" x2="813.3" y2="752.8" stroke="#8a8a8a" stroke-width="1"/>
<g font-family="Liberation Sans" fill="#fff" font-size="10">
<text x="581" y="740.5" textLength="45" lengthAdjust="spacingAndGlyphs">Micromixer</text>
<text x="700" y="740.5" textLength="74" lengthAdjust="spacingAndGlyphs">Reaction Module</text>
<text x="841" y="741" textLength="66" lengthAdjust="spacingAndGlyphs">Online Detection</text>
</g>
<!-- micromixer content -->
<circle cx="596.5" cy="781" r="32" fill="#d8d8d8"/>
<rect x="563.2" y="769" width="62.2" height="21.3" fill="#dfecf6"/>
<rect x="585.8" y="789" width="21.4" height="17" fill="#f4e6a2"/>
<line x1="568" y1="782" x2="580" y2="782" stroke="#7a9cc8" stroke-width="1"/>
<path d="M579,779.5 L584,782 L579,784.5 Z" fill="#1a3a8a"/>
<path d="M605,806 Q604,814 608,817" fill="none" stroke="#b8902a" stroke-width="1.2"/>
<circle cx="637.4" cy="757.6" r="2.3" fill="none" stroke="#e8c030" stroke-width="1.5"/>
<circle cx="637.4" cy="767" r="2.3" fill="none" stroke="#6a2a8a" stroke-width="1.5"/>
<circle cx="637.4" cy="776.4" r="2.3" fill="none" stroke="#7ab040" stroke-width="1.5"/>
<g font-family="Liberation Sans" fill="#222" font-size="7.5">
<text x="642" y="760.5">Pb<tspan font-size="5" dy="-3">2+</tspan></text><text x="642" y="770">Cs<tspan font-size="5" dy="-3">+</tspan></text><text x="642" y="779.5">Br<tspan font-size="5" dy="-3">-</tspan></text>
<text x="642" y="789.5">OAm</text><text x="642" y="799.5">OA</text><text x="642" y="809">NCs</text>
<text x="568.2" y="778" font-size="6.5">Toluene</text>
<text x="608.5" y="819" font-size="7.5">Precursor</text>
</g>
<!-- reaction module content -->
<defs>
<linearGradient id="goldV" x1="0" y1="0" x2="0" y2="1"><stop offset="0" stop-color="#e2d25a"/><stop offset="0.45" stop-color="#c8b032"/><stop offset="1" stop-color="#8a7a18"/></linearGradient>
<pattern id="coilS" width="4.2" height="30" patternUnits="userSpaceOnUse"><rect width="4.2" height="30" fill="#8e8c46"/><rect width="2.2" height="30" fill="#d4dccc"/></pattern>
</defs>
<g transform="translate(689.3,792.2) rotate(-12.85)">
  <rect x="0" y="-10.8" width="102" height="21.6" rx="3" fill="url(#goldV)"/>
  <rect x="26" y="-10.8" width="58" height="21.6" fill="url(#coilS)"/>
  <rect x="26" y="-10.8" width="58" height="21.6" fill="url(#goldV)" opacity="0.35"/>
  <ellipse cx="0" cy="0" rx="4.5" ry="10.8" fill="#d8c440"/>
  <ellipse cx="0" cy="0" rx="2.8" ry="7" fill="#6a5a2a"/>
</g>
<path d="M679,769 Q679,785 686,794" fill="none" stroke="#333" stroke-width="0.8"/>
<path d="M756,758 Q768,752 775,760" fill="none" stroke="#333" stroke-width="0.8"/>
<path d="M764,784 Q765,792 762,797" fill="none" stroke="#333" stroke-width="0.8"/>
<path d="M688,803 Q690,812 703,812.5" fill="none" stroke="#333" stroke-width="0.8"/>
<g font-family="Liberation Sans" font-weight="bold" fill="#2a2a2a" font-size="8">
<text x="675.5" y="768.4" textLength="22" lengthAdjust="spacingAndGlyphs">Heater</text>
<text x="709" y="763" textLength="45" lengthAdjust="spacingAndGlyphs">Locating slot</text>
<text x="745" y="803" textLength="47.8" lengthAdjust="spacingAndGlyphs">Reaction tube</text>
<text x="704" y="815" textLength="41.8" lengthAdjust="spacingAndGlyphs">Pt 100 RTD</text>
</g>
<!-- online detection content -->
<rect x="836" y="750.8" width="12" height="36.8" fill="#6c8cc8"/>
<rect x="840" y="752" width="4" height="34" fill="#b8d890"/>
<line x1="830" y1="780" x2="855" y2="780" stroke="#222" stroke-width="1"/>
<rect x="822" y="790.6" width="43.6" height="27" fill="#a8962a"/>
<rect x="822" y="790.6" width="4" height="27" fill="#58c090"/>
<rect x="838" y="790.6" width="8" height="27" fill="#58c090"/>
<rect x="861" y="790.6" width="4.6" height="27" fill="#58c090"/>
<circle cx="899.1" cy="777" r="18.4" fill="#fff" stroke="#444" stroke-width="1"/>
<g fill="#7ea8dc">
<circle cx="899.1" cy="765.5" r="4.8"/><circle cx="909" cy="771.3" r="4.8"/><circle cx="909" cy="782.7" r="4.8"/><circle cx="899.1" cy="788.5" r="4.8"/><circle cx="889.2" cy="782.7" r="4.8"/><circle cx="889.2" cy="771.3" r="4.8"/>
</g>
<circle cx="899.1" cy="777" r="4.8" fill="#98c878"/>
<g font-family="Liberation Sans" fill="#222" font-size="8.5">
<text x="853.5" y="768">UV</text><text x="858" y="783">A</text><text x="896" y="758">A</text>
<text x="878" y="808" textLength="40" lengthAdjust="spacingAndGlyphs">6-around-1</text>
<text x="870.5" y="817" textLength="58" lengthAdjust="spacingAndGlyphs">Reflection Probe</text>
</g>
<!-- (e) texts -->
<g font-family="Liberation Sans" fill="#1a1a1a">
<text transform="translate(602.3,666) rotate(13)" font-size="11" font-weight="bold" textLength="32" lengthAdjust="spacingAndGlyphs">Toluene</text>
<text transform="translate(646,657) rotate(10)" font-size="11" font-weight="bold" textLength="29.5" lengthAdjust="spacingAndGlyphs">T-mixer</text>
<text transform="translate(571.2,689) rotate(12)" font-size="10.5" font-weight="bold" textLength="38" lengthAdjust="spacingAndGlyphs">Procursor</text>
<text transform="translate(724,620.5) rotate(9)" font-size="11" font-style="italic" textLength="51" lengthAdjust="spacingAndGlyphs">Linear stage</text>
<text x="710.6" y="680.3" font-size="10.5" textLength="69.6" lengthAdjust="spacingAndGlyphs">Reflection probe</text>
<text x="860.3" y="706.6" font-size="10.5" textLength="25.7" lengthAdjust="spacingAndGlyphs">Upper</text>
<text x="855.2" y="718" font-size="10.5" textLength="38.5" lengthAdjust="spacingAndGlyphs">computer</text>
<text x="891.9" y="610.4" font-size="9" textLength="25" lengthAdjust="spacingAndGlyphs">Online</text>
<text x="891.9" y="621.4" font-size="9" textLength="36" lengthAdjust="spacingAndGlyphs">detection</text>
<text x="891.9" y="636" font-size="9" textLength="29" lengthAdjust="spacingAndGlyphs">Remote</text>
<text x="891.9" y="647" font-size="9" textLength="27" lengthAdjust="spacingAndGlyphs">control</text>
<text x="891.9" y="662" font-size="9" textLength="33" lengthAdjust="spacingAndGlyphs">Material</text>
<text x="891.9" y="673" font-size="9" textLength="16" lengthAdjust="spacingAndGlyphs">flow</text>
</g>

<!-- labels -->
<text x="19" y="306" class="lbl">(b)</text>
<text x="527" y="306" class="lbl">(c)</text>
<text x="19" y="614" class="lbl">(d)</text>
<text x="527" y="614" class="lbl">(e)</text>

<text x="163.6" y="543.2" class="bt" textLength="84.5" lengthAdjust="spacingAndGlyphs">Blue-light</text><text x="257.1" y="543.2" class="bt" textLength="36.3" lengthAdjust="spacingAndGlyphs">CDs</text>
<text x="677.5" y="543.3" class="bt" textLength="123" lengthAdjust="spacingAndGlyphs">Full-spectrum</text><text x="809.5" y="543.3" class="bt" textLength="36" lengthAdjust="spacingAndGlyphs">CDs</text>
<text x="281" y="575" class="ttl" textLength="378.5" lengthAdjust="spacingAndGlyphs">Continuous synthesis of carbon dots</text>

<text x="175" y="846" class="bt" font-size="18.5">CsPbBr<tspan font-size="12" dy="3">3</tspan><tspan dy="-3"> NCs@APTES</tspan></text>
<text x="676" y="846.5" class="bt" font-size="18.5">CsPbBr<tspan font-size="12" dy="3">3</tspan><tspan dy="-3"> NCs</tspan></text>
<text x="214" y="879" class="ttl" textLength="506" lengthAdjust="spacingAndGlyphs">Minute-level synthesis of perovskite nanocrystals</text>

<!-- frame -->
<rect x="10" y="13" width="935" height="877" fill="none" stroke="#1a1a1a" stroke-width="2"/>
<line x1="9" y1="281" x2="946" y2="281" stroke="#1a1a1a" stroke-width="2"/>
<line x1="9" y1="589" x2="946" y2="589" stroke="#1a1a1a" stroke-width="2"/>
</svg>
</body></html>
